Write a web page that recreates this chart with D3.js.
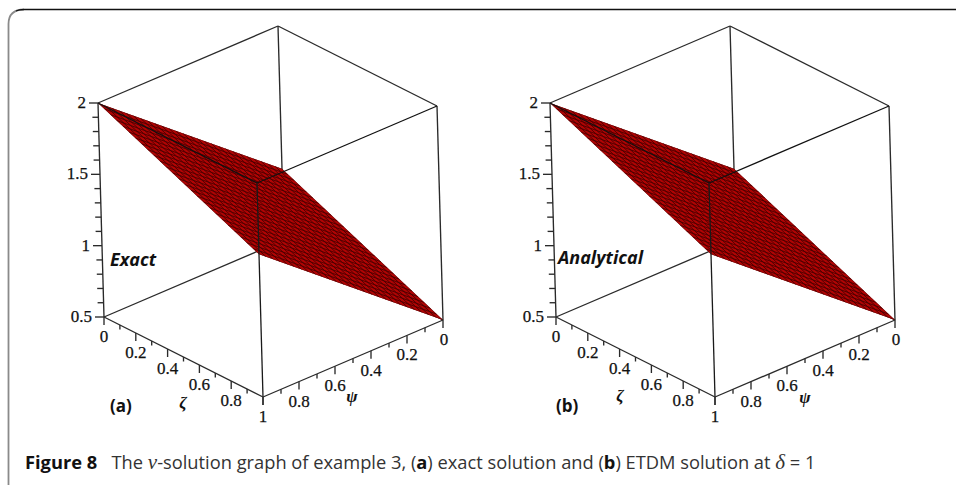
<!DOCTYPE html>
<html><head><meta charset="utf-8">
<script src="https://cdn.jsdelivr.net/npm/d3@7"></script>
<style>html,body{margin:0;padding:0;background:#fff}svg{display:block}</style>
</head><body>
<svg id="c" width="956" height="485"></svg>
<script>
// ---- data ----
const zetaDomain = [0, 1];
const psiDomain = [0, 1];
const vDomain = [0.5, 2];
const majorAxisTicks = [0, 0.2, 0.4, 0.6, 0.8, 1];
const minorAxisTicks = [0.1, 0.3, 0.5, 0.7, 0.9];
const vMajorTicks = [0.5, 1, 1.5, 2];
const vMinorTicks = [0.6, 0.7, 0.8, 0.9, 1.1, 1.2, 1.3, 1.4, 1.6, 1.7, 1.8, 1.9];
// surface corners: v at (zeta, psi)
const surfaceZeta = [0, 0, 1, 1];
const surfacePsi = [0, 1, 1, 0];
const surfaceV = [1, 2, 1.5, 0.5];
const meshLevels = d3.range(0, 27).map(i => i / 26);
const panelNames = ["Exact", "Analytical"];
const panelTags = ["(a)", "(b)"];
const panelShift = [0, 452];

const svg = d3.select("#c");
const SANS = "'Open Sans', sans-serif", SERIF = "'Liberation Serif', serif";

// card frame
svg.append("path").attr("d", "M8.5,485 Q8.5,482 8.5,479 L8.5,24 Q8.5,9.5 24,9.5").attr("fill","none")
  .attr("stroke","#8a8a8a").attr("stroke-width",1.8);
svg.append("path").attr("d", "M16,11 Q19,9.5 24,9.5 L956,9.5").attr("fill","none").attr("stroke","#111").attr("stroke-width",1.3);

function panel(i) {
  const g = svg.append("g").attr("transform", `translate(${panelShift[i]},0)`);
  // oblique projection built from linear scales (back-bottom corner at zeta=0, psi=0, v=0.5)
  const zx = d3.scaleLinear(zetaDomain, [0, 159]), zy = d3.scaleLinear(zetaDomain, [0, 80]);
  const px = d3.scaleLinear(psiDomain, [0, -180]), py = d3.scaleLinear(psiDomain, [0, 77]);
  const vx = d3.scaleLinear(vDomain, [0, -6]), vy = d3.scaleLinear(vDomain, [0, -214]);
  const P = (z, p, v) => [284 + zx(z) + px(p) + vx(v), 240 + zy(z) + py(p) + vy(v)];
  const line = (a, b, w = 1.35, c = "#2a2a2a") => g.append("line")
    .attr("x1", a[0]).attr("y1", a[1]).attr("x2", b[0]).attr("y2", b[1])
    .attr("stroke", c).attr("stroke-width", w);
  const [v0, v1] = vDomain;

  // hidden-side edges
  line(P(0,0,v0), P(0,0,v1));
  line(P(0,1,v0), P(0,0,v0));
  line(P(1,0,v0), P(0,0,v0));
  line(P(0,1,v0), P(0,1,v1));
  line(P(1,0,v0), P(1,0,v1));
  line(P(0,0,v1), P(0,1,v1));
  line(P(0,0,v1), P(1,0,v1));

  // surface
  const corners = surfaceV.map((v, k) => P(surfaceZeta[k], surfacePsi[k], v));
  g.append("polygon").attr("points", corners.map(c => c.join(",")).join(" ")).attr("fill", "#b00404");
  const vAt = (z, p) => surfaceV[0]
    + z * (surfaceV[3] - surfaceV[0]) + p * (surfaceV[1] - surfaceV[0]);
  const clip = "c" + i;
  g.append("clipPath").attr("id", clip).append("polygon").attr("points", corners.map(c => c.join(",")).join(" "));
  const mesh = g.append("g").attr("clip-path", `url(#${clip})`).attr("stroke", "#4a0000").attr("stroke-width", 0.9);
  meshLevels.forEach(t => {
    const a = P(t, 0, vAt(t, 0)), b = P(t, 1, vAt(t, 1));
    const c = P(0, t, vAt(0, t)), d = P(1, t, vAt(1, t));
    mesh.append("line").attr("x1", a[0]).attr("y1", a[1]).attr("x2", b[0]).attr("y2", b[1]);
    mesh.append("line").attr("x1", c[0]).attr("y1", c[1]).attr("x2", d[0]).attr("y2", d[1]);
  });

  // front edges, over the surface
  line(P(1,1,v1), P(0,1,v1), 1.3, "#111");
  line(P(1,1,v1), P(1,0,v1), 1.3, "#111");
  line(P(1,1,v0), P(1,1,v1), 1.3, "#1a1a1a");
  line(P(0,1,v0), P(1,1,v0));
  line(P(1,0,v0), P(1,1,v0));

  const label = (x, y, t, anchor = "middle") => g.append("text").attr("x", x).attr("y", y)
    .attr("text-anchor", anchor).attr("dominant-baseline", "central")
    .attr("font-family", SERIF).attr("font-size", 17).attr("fill", "#111")
    .attr("stroke", "#111").attr("stroke-width", 0.25).text(t);

  // v axis on the left edge
  vMajorTicks.forEach(v => {
    const a = P(0,1,v);
    line(a, [a[0] - 9, a[1]]);
    label(a[0] - 12, a[1] - 0.5, v === 0.5 ? "0.5" : String(v), "end");
  });
  vMinorTicks.forEach(v => { const a = P(0,1,v); line(a, [a[0] - 6, a[1]]); });

  // zeta axis (psi = 1) and psi axis (zeta = 1)
  minorAxisTicks.forEach(t => {
    const a = P(t,1,v0), b = P(1,t,v0);
    line(a, [a[0], a[1] + 4.5]); line(b, [b[0], b[1] + 4.5]);
  });
  majorAxisTicks.forEach(t => {
    const a = P(t,1,v0), b = P(1,t,v0);
    line(a, [a[0], a[1] + 8]); line(b, [b[0], b[1] + 8]);
    label(a[0], a[1] + 19.5, String(t));
    if (t < 1) label(b[0] + (t === 0 ? 1 : 0), b[1] + 19.5, String(t));
  });

  // axis symbols
  const sym = (x, y, t) => g.append("text").attr("x", x).attr("y", y).attr("text-anchor","middle")
    .attr("dominant-baseline","central").attr("font-family", SERIF).attr("font-style","italic")
    .attr("font-weight","bold").attr("font-size",17).attr("fill","#111").text(t);
  if (i === 0) { sym(183, 402, "ζ"); sym(352, 396, "ψ"); }
  else { sym(168, 395, "ζ"); sym(353, 397, "ψ"); }

  // panel annotations
  g.append("text").attr("x", i === 0 ? 110 : 106).attr("y", i === 0 ? 259 : 257).attr("dominant-baseline","central")
    .attr("font-family", SANS).attr("font-size", 18).attr("font-weight", 700).attr("font-style","italic")
    .attr("fill","#111").text(panelNames[i]);
  g.append("text").attr("x", i === 0 ? 110 : 104).attr("y", 405).attr("dominant-baseline","central")
    .attr("font-family", SANS).attr("font-size", 17).attr("font-weight", 700).attr("fill","#111").text(panelTags[i]);
}
panelNames.forEach((_, i) => panel(i));

// caption
const cap = svg.append("text").attr("x", 25).attr("y", 469).attr("font-family", SANS).attr("font-size", 18.3).attr("fill", "#333");
const seg = (t, o = {}) => { const s = cap.append("tspan").text(t); Object.entries(o).forEach(([k,v]) => s.attr(k,v)); return s; };
const B = {"font-weight":700, fill:"#111"};
const M = {"font-family":SERIF, "font-style":"italic", "font-size":21};
seg("Figure 8", B); seg("\u00a0\u00a0\u00a0The "); seg("ν", M); seg("-solution graph of example 3, (");
seg("a", B); seg(") exact solution and ("); seg("b", B); seg(") ETDM solution at "); seg("δ", M); seg(" = 1");
</script>
</body></html>
